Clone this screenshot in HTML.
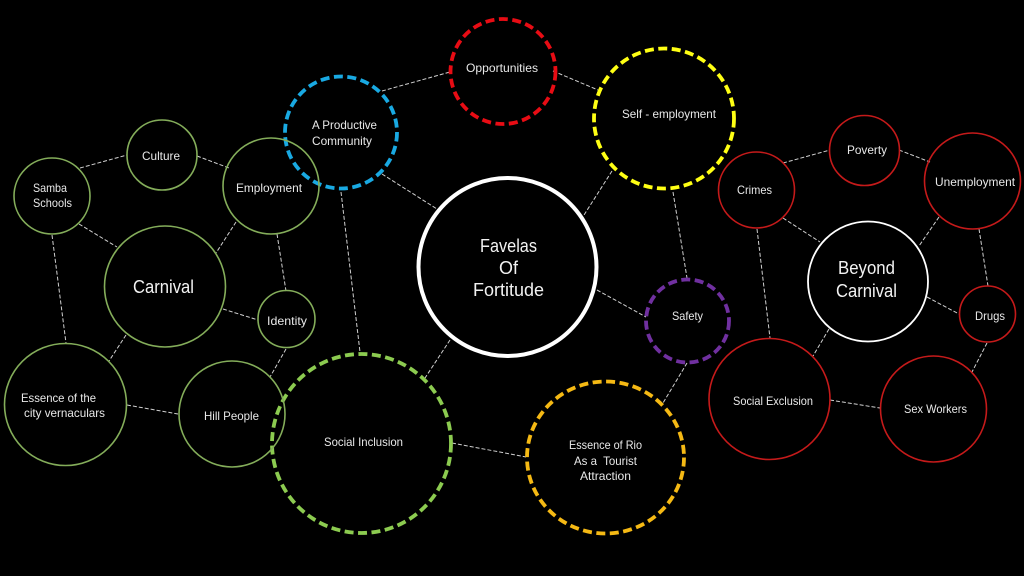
<!DOCTYPE html>
<html>
<head>
<meta charset="utf-8">
<style>
html,body{margin:0;padding:0;background:#000;width:1024px;height:576px;overflow:hidden}
svg{display:block}
text{font-family:"Liberation Sans",sans-serif;fill:#e8e8e8;font-size:12px}
.big{font-size:18px;fill:#f2f2f2}
.l line{stroke:#d0d0d0;stroke-width:1;stroke-dasharray:4 2}
circle,ellipse{fill:none}
.g{stroke:#84ad5a;stroke-width:1.6}
.r{stroke:#c51a1a;stroke-width:1.6}
.w{stroke:#fff;stroke-width:1.8}
.d{stroke-width:3.8;stroke-dasharray:9 4.5}
</style>
</head>
<body>
<svg width="1024" height="576" viewBox="0 0 1024 576" xmlns="http://www.w3.org/2000/svg">
<rect width="1024" height="576" fill="#000"/>
<g class="l">
<line x1="80" y1="168" x2="127" y2="155"/>
<line x1="197" y1="156" x2="229" y2="168"/>
<line x1="79" y1="224" x2="117" y2="247"/>
<line x1="236" y1="222" x2="216" y2="253"/>
<line x1="277" y1="234" x2="286" y2="291"/>
<line x1="223" y1="309" x2="258" y2="320"/>
<line x1="52" y1="235" x2="66" y2="343"/>
<line x1="126" y1="335" x2="109" y2="361"/>
<line x1="127" y1="405" x2="178" y2="414"/>
<line x1="286" y1="349" x2="270" y2="377"/>
<line x1="382" y1="91" x2="450" y2="72"/>
<line x1="553" y1="71" x2="598" y2="90"/>
<line x1="382" y1="174" x2="437" y2="209"/>
<line x1="612" y1="171" x2="584" y2="215"/>
<line x1="673" y1="192" x2="687" y2="278"/>
<line x1="341" y1="192" x2="360" y2="352"/>
<line x1="597" y1="290" x2="646" y2="317"/>
<line x1="450" y1="340" x2="425" y2="378"/>
<line x1="687" y1="363" x2="663" y2="403"/>
<line x1="452" y1="443" x2="526" y2="457"/>
<line x1="783" y1="163" x2="830" y2="150"/>
<line x1="899" y1="150" x2="930" y2="162"/>
<line x1="783" y1="218" x2="820" y2="242"/>
<line x1="939" y1="217" x2="919" y2="246"/>
<line x1="979" y1="229" x2="988" y2="286"/>
<line x1="927" y1="297" x2="959" y2="314"/>
<line x1="757" y1="229" x2="770" y2="338"/>
<line x1="829" y1="329" x2="813" y2="356"/>
<line x1="830" y1="400" x2="880" y2="408"/>
<line x1="987" y1="343" x2="972" y2="372"/>
</g>

<circle class="d" cx="341" cy="132.5" r="56" stroke="#19a9e2"/>
<circle class="d" cx="503" cy="71.5" r="52.5" stroke="#e80c14"/>
<circle class="d" cx="664" cy="118.5" r="70" stroke="#ffff14"/>
<circle class="d" cx="687.5" cy="321" r="41.5" stroke="#7030a0"/>
<ellipse class="d" cx="605.5" cy="457.5" rx="78.5" ry="76" stroke="#f5b914"/>
<circle class="d" cx="361.5" cy="443.5" r="89.5" stroke="#8ccb50"/>

<circle class="g" cx="162" cy="155" r="35"/>
<circle class="g" cx="52" cy="196" r="38"/>
<circle class="g" cx="271" cy="186" r="48"/>
<circle class="g" cx="165" cy="286.5" r="60.5"/>
<circle class="g" cx="286.5" cy="319" r="28.5"/>
<circle class="g" cx="65.5" cy="404.5" r="61"/>
<circle class="g" cx="232" cy="414" r="53"/>

<circle class="r" cx="756.5" cy="190" r="38"/>
<circle class="r" cx="864.5" cy="150.5" r="35"/>
<circle class="r" cx="972.5" cy="181" r="48"/>
<circle class="r" cx="987.5" cy="314" r="28"/>
<circle class="r" cx="769.5" cy="399" r="60.5"/>
<circle class="r" cx="933.5" cy="409" r="53"/>

<circle class="w" cx="868" cy="281.5" r="60"/>
<circle cx="507.5" cy="267" r="89" stroke="#fff" stroke-width="4"/>

<text x="142" y="160" textLength="38" lengthAdjust="spacingAndGlyphs">Culture</text>
<text x="33" y="192" textLength="34" lengthAdjust="spacingAndGlyphs">Samba</text>
<text x="33" y="207" textLength="39" lengthAdjust="spacingAndGlyphs">Schools</text>
<text x="236" y="192" textLength="66" lengthAdjust="spacingAndGlyphs">Employment</text>
<text class="big" x="133" y="293" textLength="61" lengthAdjust="spacingAndGlyphs">Carnival</text>
<text x="267" y="325" textLength="40" lengthAdjust="spacingAndGlyphs">Identity</text>
<text x="21" y="402" textLength="75" lengthAdjust="spacingAndGlyphs">Essence of the</text>
<text x="24" y="417" textLength="81" lengthAdjust="spacingAndGlyphs">city vernaculars</text>
<text x="204" y="420" textLength="55" lengthAdjust="spacingAndGlyphs">Hill People</text>
<text x="324" y="446" textLength="79" lengthAdjust="spacingAndGlyphs">Social Inclusion</text>
<text x="312" y="129" textLength="65" lengthAdjust="spacingAndGlyphs">A Productive</text>
<text x="312" y="145" textLength="60" lengthAdjust="spacingAndGlyphs">Community</text>
<text x="466" y="72" textLength="72" lengthAdjust="spacingAndGlyphs">Opportunities</text>
<text x="622" y="118" textLength="94" lengthAdjust="spacingAndGlyphs">Self - employment</text>
<text class="big" x="480" y="252" textLength="57" lengthAdjust="spacingAndGlyphs">Favelas</text>
<text class="big" x="499" y="274" textLength="19" lengthAdjust="spacingAndGlyphs">Of</text>
<text class="big" x="473" y="296" textLength="71" lengthAdjust="spacingAndGlyphs">Fortitude</text>
<text x="672" y="320" textLength="31" lengthAdjust="spacingAndGlyphs">Safety</text>
<text x="569" y="449" textLength="73" lengthAdjust="spacingAndGlyphs">Essence of Rio</text>
<text x="574" y="465" textLength="63" lengthAdjust="spacingAndGlyphs" xml:space="preserve">As a  Tourist</text>
<text x="580" y="480" textLength="51" lengthAdjust="spacingAndGlyphs">Attraction</text>
<text x="737" y="194" textLength="35" lengthAdjust="spacingAndGlyphs">Crimes</text>
<text x="847" y="154" textLength="40" lengthAdjust="spacingAndGlyphs">Poverty</text>
<text x="935" y="186" textLength="80" lengthAdjust="spacingAndGlyphs">Unemployment</text>
<text class="big" x="838" y="274" textLength="57" lengthAdjust="spacingAndGlyphs">Beyond</text>
<text class="big" x="836" y="297" textLength="61" lengthAdjust="spacingAndGlyphs">Carnival</text>
<text x="975" y="320" textLength="30" lengthAdjust="spacingAndGlyphs">Drugs</text>
<text x="733" y="405" textLength="80" lengthAdjust="spacingAndGlyphs">Social Exclusion</text>
<text x="904" y="413" textLength="63" lengthAdjust="spacingAndGlyphs">Sex Workers</text>
</svg>
</body>
</html>
